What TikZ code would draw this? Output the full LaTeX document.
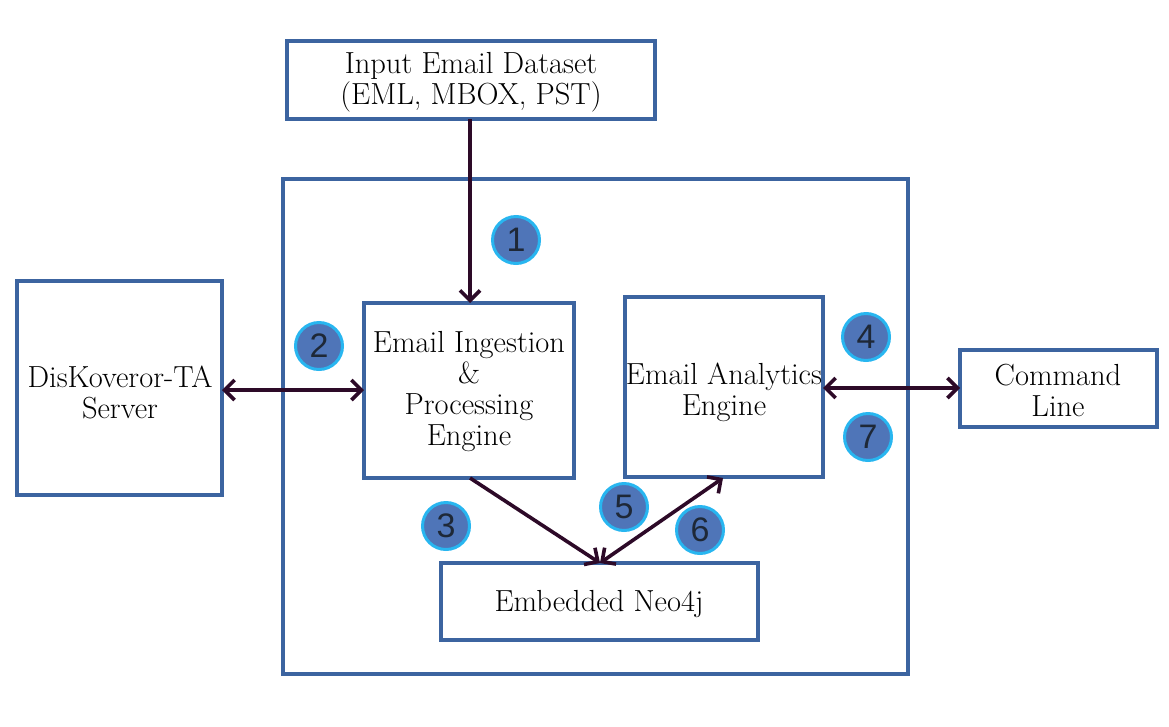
\documentclass[tikz,border=0pt]{standalone}
\usepackage{fontspec}
\setmainfont{Latin Modern Roman}
\newfontfamily\numfont{Liberation Sans}
\usetikzlibrary{arrows.meta}
\definecolor{boxblue}{RGB}{60,100,160}
\definecolor{circfill}{RGB}{79,117,184}
\definecolor{circring}{RGB}{40,182,240}
\definecolor{digit}{RGB}{30,40,55}
\definecolor{arrowc}{RGB}{45,10,40}
\begin{document}
\begin{tikzpicture}[x=1pt,y=-1pt,
  blk/.style={draw=boxblue,line width=3.6pt,fill=white},
  lbl/.style={align=center,font=\fontsize{30.5}{31}\selectfont,inner sep=0pt},
  num/.style={circle,draw=circring,line width=3pt,fill=circfill,minimum size=47pt,inner sep=0pt,text=digit,font=\numfont\fontsize{34}{34}\selectfont},
  conn/.style={draw=arrowc,line width=3.6pt,-{Straight Barb[length=10pt,width=20pt]}},
  dconn/.style={draw=arrowc,line width=3.6pt,{Straight Barb[length=10pt,width=20pt]}-{Straight Barb[length=10pt,width=20pt]}}]
\useasboundingbox (0,0) rectangle (1169,726);
% container
\draw[blk,fill=none] (283,179) rectangle (908,674);
% boxes
\draw[blk] (287,41) rectangle (655,119);
\node[lbl] (input) at (471,82) {Input Email Dataset\\(EML, MBOX, PST)};
\coordinate (inputB) at (470,119);
\draw[blk] (17,281) rectangle (222,495);
\node[lbl] (server) at (120,392) {DisKoveror-TA\\Server};
\coordinate (serverR) at (222,390);
\draw[blk] (364,303) rectangle (574,478);
\node[lbl] (ingest) at (469,392) {Email Ingestion\\\&\\Processing\\Engine};
\coordinate (ingestT) at (470,303);
\coordinate (ingestL) at (364,390);
\coordinate (ingestB) at (470,478);
\draw[blk] (625,297) rectangle (823,477);
\node[lbl] (analytics) at (724,392) {Email Analytics\\Engine};
\coordinate (anaB) at (723,478);
\coordinate (anaR) at (823,388);
\draw[blk] (441,563) rectangle (758,640);
\node[lbl] (neo) at (599,604) {Embedded Neo4j};
\coordinate (neoT) at (600,563);
\draw[blk] (960,350) rectangle (1157,427);
\node[lbl] (cmd) at (1058,390) {Command\\Line};
\coordinate (cmdL) at (960,388);
% connectors
\draw[conn] (inputB) -- (ingestT);
\draw[dconn] (serverR) -- (ingestL);
\draw[conn] (ingestB) -- (neoT);
\draw[dconn] (neoT) -- (anaB);
\draw[dconn] (anaR) -- (cmdL);
% numbers
\node[num] (n1) at (516,240) {1};
\node[num] (n2) at (319,346) {2};
\node[num] (n3) at (446,526) {3};
\node[num] (n4) at (866,337) {4};
\node[num] (n5) at (624,507) {5};
\node[num] (n6) at (700,530) {6};
\node[num] (n7) at (868,437) {7};
\end{tikzpicture}
\end{document}
